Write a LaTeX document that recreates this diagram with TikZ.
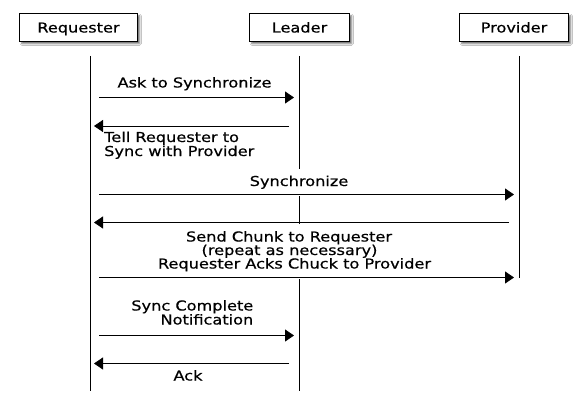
\documentclass[tikz,border=0pt]{standalone}
\usepackage{fontspec}
\setmainfont[FakeStretch=1.18,FakeBold=0.5]{DejaVu Sans}
\usetikzlibrary{arrows.meta,shadows.blur}
\begin{document}
\begin{tikzpicture}[x=1pt,y=-1pt,
  every node/.style={font=\fontsize{13.7}{14}\selectfont, text=black},
  actor/.style={draw=black, line width=0.9pt, fill=white, minimum height=28pt, inner sep=0pt,
    text height=10pt, text depth=0pt,
    blur shadow={shadow xshift=2.2pt, shadow yshift=-2.2pt, shadow blur radius=1.6pt, shadow opacity=55}},
  lifeline/.style={draw=black, line width=0.9pt},
  msg/.style={draw=black, line width=0.9pt, -{Triangle[length=9pt,width=12pt]}},
  lbl/.style={inner sep=0pt},
  cover/.style={inner sep=0pt, fill=white}
]
\useasboundingbox[fill=white] (0,0) rectangle (585,406);

% actors
\node[actor, minimum width=118pt] (req) at (78.5,27.5) {Requester};
\node[actor, minimum width=100pt] (lead) at (299.5,27.5) {Leader};
\node[actor, minimum width=109pt] (prov) at (514,27.5) {Provider};

% lifelines
\coordinate (reqT) at (90,56);   \coordinate (reqB) at (90,391);
\coordinate (leadT) at (299,56); \coordinate (leadB) at (299,391);
\coordinate (provT) at (519,56); \coordinate (provB) at (519,278);
\draw[lifeline] (reqT) -- (reqB);
\draw[lifeline] (leadT) -- (leadB);
\draw[lifeline] (provT) -- (provB);

% message end points
\coordinate (m1s) at (99,97.5);  \coordinate (m1e) at (294,97.5);
\coordinate (m2s) at (289,126);  \coordinate (m2e) at (94,126);
\coordinate (m3s) at (99,194.5); \coordinate (m3e) at (514,194.5);
\coordinate (m4s) at (509,222.5);\coordinate (m4e) at (94,222.5);
\coordinate (m5s) at (99,277.5); \coordinate (m5e) at (514,277.5);
\coordinate (m6s) at (99,335.5); \coordinate (m6e) at (294,335.5);
\coordinate (m7s) at (289,363.5);\coordinate (m7e) at (94,363.5);

% labels
\node[lbl, anchor=base] (l1) at (194.5,87.5) {Ask to Synchronize};
\node[lbl, anchor=base west] (l2a) at (104,142) {Tell Requester to};
\node[lbl, anchor=base west] (l2b) at (104,156) {Sync with Provider};
\node[cover, anchor=base, minimum height=27pt] (l3) at (299,186) {Synchronize};
\node[cover, anchor=base, minimum height=55pt, minimum width=200pt] (l4b) at (289.5,255) {(repeat as necessary)};
\node[lbl, anchor=base] (l4a) at (289,241.5) {Send Chunk to Requester};
\node[lbl, anchor=base] (l5) at (294.5,268.5) {Requester Acks Chuck to Provider};
\node[lbl, anchor=base east] (l6a) at (253.5,310.5) {Sync Complete};
\node[lbl, anchor=base east] (l6b) at (253.5,324.5) {Notification};
\node[lbl, anchor=base] (l7) at (188,380.5) {Ack};

% messages
\draw[msg] (m1s) -- (m1e);
\draw[msg] (m2s) -- (m2e);
\draw[msg] (m3s) -- (m3e);
\draw[msg] (m4s) -- (m4e);
\draw[msg] (m5s) -- (m5e);
\draw[msg] (m6s) -- (m6e);
\draw[msg] (m7s) -- (m7e);
\end{tikzpicture}
\end{document}
